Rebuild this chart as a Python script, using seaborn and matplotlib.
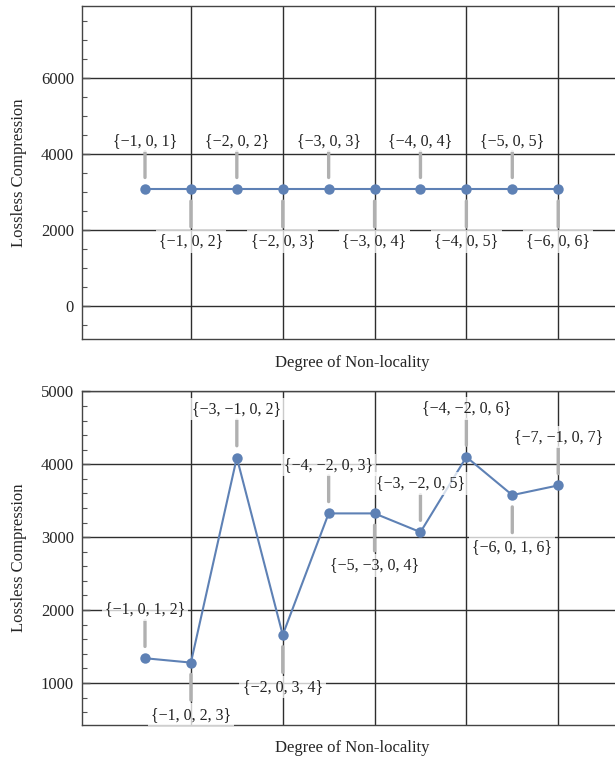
import matplotlib.pyplot as plt
import pandas as pd
import seaborn as sns
from matplotlib.ticker import FixedLocator, MultipleLocator

# data
degree = [1, 2, 3, 4, 5, 6, 7, 8, 9, 10]
grid_x = [2, 4, 6, 8, 10]

sym_values = [3063, 3063, 3063, 3063, 3063, 3063, 3063, 3063, 3063, 3063]
sym_labels = ["{−1, 0, 1}", "{−1, 0, 2}", "{−2, 0, 2}", "{−2, 0, 3}", "{−3, 0, 3}",
              "{−3, 0, 4}", "{−4, 0, 4}", "{−4, 0, 5}", "{−5, 0, 5}", "{−6, 0, 6}"]
sym_sides = ["above", "below", "above", "below", "above",
             "below", "above", "below", "above", "below"]

gen_values = [1339, 1279, 4092, 1659, 3326, 3326, 3069, 4100, 3577, 3710]
gen_labels = ["{−1, 0, 1, 2}", "{−1, 0, 2, 3}", "{−3, −1, 0, 2}", "{−2, 0, 3, 4}",
              "{−4, −2, 0, 3}", "{−5, −3, 0, 4}", "{−3, −2, 0, 5}", "{−4, −2, 0, 6}",
              "{−6, 0, 1, 6}", "{−7, −1, 0, 7}"]
gen_sides = ["above", "below", "above", "below", "above",
             "below", "above", "above", "below", "above"]

LINE_COLOR = "#5e81b5"
LEADER_COLOR = "#b0b0b0"
GRID_COLOR = "#2e2e2e"

sns.set_style("white")
plt.rcParams["font.family"] = ["Liberation Serif", "DejaVu Serif"]


def draw_panel(ax, values, labels, sides, ylim, major, minor):
    df = pd.DataFrame({"degree": degree, "value": values})
    sns.lineplot(data=df, x="degree", y="value", ax=ax, color=LINE_COLOR,
                 lw=1.5, marker="o", markersize=7.5, markeredgewidth=0, zorder=3)

    for x, y, text, side in zip(degree, values, labels, sides):
        sgn = 1 if side == "above" else -1
        # leader line, stopping short of the point
        ax.annotate("", xy=(x, y), xytext=(0, sgn * 27), textcoords="offset points",
                    arrowprops=dict(arrowstyle="-", color=LEADER_COLOR, lw=2.4,
                                    shrinkA=0, shrinkB=8.5), zorder=4)
        ax.annotate(text, xy=(x, y), xytext=(0, sgn * (35 if sgn > 0 else 37.5)),
                    textcoords="offset points", ha="center", va="center",
                    fontsize=11.5, color="#222222", zorder=5,
                    bbox=dict(boxstyle="square,pad=0.2", fc="white", ec="none", alpha=0.75))

    ax.set_xlim(-0.366, 11.39)
    ax.set_ylim(*ylim)
    ax.xaxis.set_major_locator(FixedLocator(grid_x))
    ax.yaxis.set_major_locator(MultipleLocator(major))
    ax.yaxis.set_minor_locator(MultipleLocator(minor))
    ax.grid(True, which="major", color=GRID_COLOR, lw=1.0, zorder=0)
    ax.set_axisbelow(True)
    ax.tick_params(axis="x", which="both", length=0, labelbottom=False)
    ax.tick_params(axis="y", which="major", left=True, direction="in", length=6, width=1,
                   color="#555555", labelsize=12, pad=6)
    ax.tick_params(axis="y", which="minor", left=True, direction="in", length=3.5,
                   width=0.8, color="#555555")
    ax.set_xlabel("Degree of Non-locality", fontsize=12, labelpad=11)
    ax.set_ylabel("Lossless Compression", fontsize=12, labelpad=10)
    for side in ["left", "bottom", "top", "right"]:
        ax.spines[side].set_color("#444444")
        ax.spines[side].set_linewidth(1.0)


fig = plt.figure(figsize=(6.15, 7.59), dpi=100)
ax_top = fig.add_axes([0.1338, 0.553, 0.8776, 0.4395])
ax_bot = fig.add_axes([0.1338, 0.0448, 0.8776, 0.4405])

draw_panel(ax_top, sym_values, sym_labels, sym_sides, (-884, 7895), 2000, 500)
draw_panel(ax_bot, gen_values, gen_labels, gen_sides, (423, 5010), 1000, 200)

fig.savefig("out.png", dpi=100)
